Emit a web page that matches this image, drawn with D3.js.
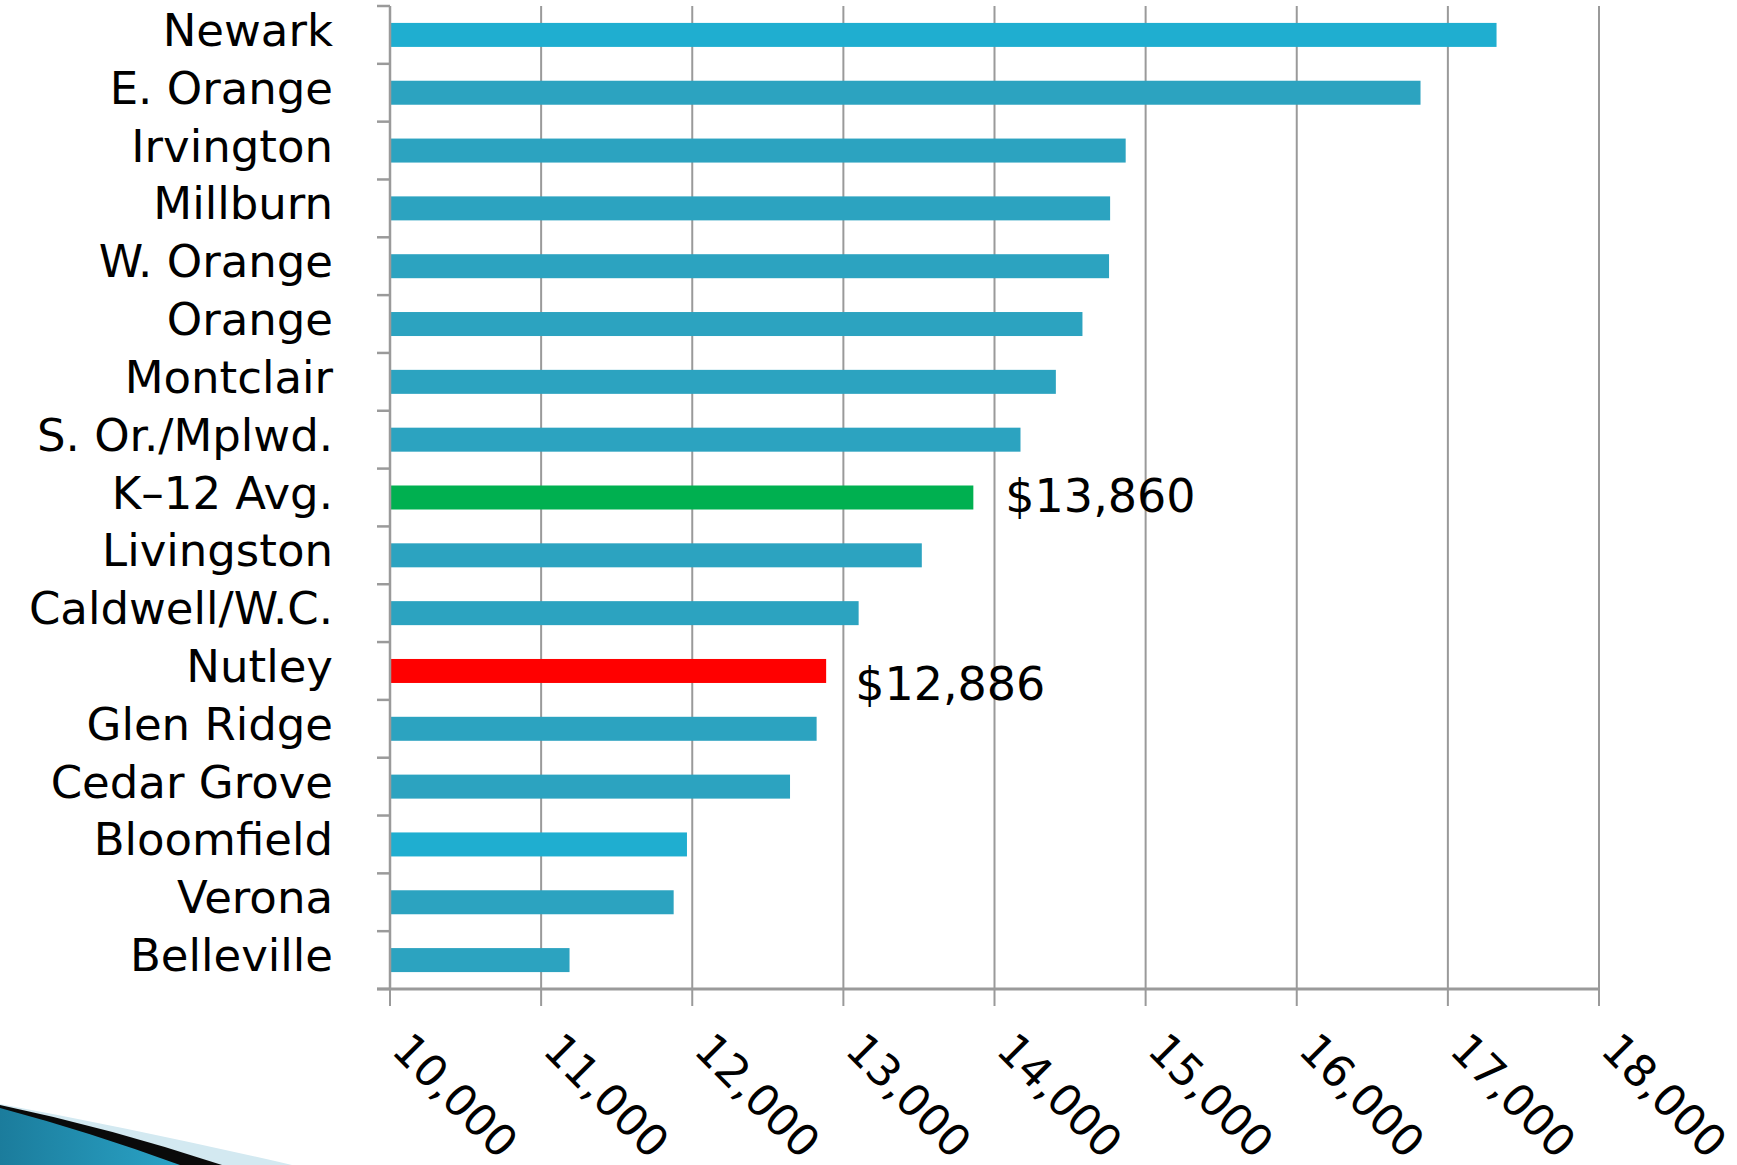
<!DOCTYPE html>
<html>
<head>
<meta charset="utf-8">
<script src="https://cdn.jsdelivr.net/npm/d3@7"></script>
<style>
  html, body { margin: 0; padding: 0; background: #fff; }
  svg { display: block; font-family: "DejaVu Sans", sans-serif; }
</style>
</head>
<body>
<div id="chart"></div>
<script>
const districts = ["Newark", "E. Orange", "Irvington", "Millburn", "W. Orange", "Orange",
  "Montclair", "S. Or./Mplwd.", "K\u201312 Avg.", "Livingston", "Caldwell/W.C.", "Nutley",
  "Glen Ridge", "Cedar Grove", "Bloomfield", "Verona", "Belleville"];
const costPerPupil = [17322, 16819, 14868, 14765, 14758, 14582, 14406, 14172, 13860,
  13519, 13101, 12886, 12823, 12647, 11965, 11877, 11188];
const xTicks = [10000, 11000, 12000, 13000, 14000, 15000, 16000, 17000, 18000];
const callouts = ["K\u201312 Avg.", "Nutley"];

const width = 1737, height = 1165;
const plotLeft = 390, plotRight = 1599, plotTop = 6, plotBottom = 989;

// colours by district, everything else gets the default teal
const barColor = {
  "Newark": "#1faed0",
  "Bloomfield": "#1faed0",
  "K\u201312 Avg.": "#00b050",
  "Nutley": "#ff0000"
};
const defaultColor = "#2ca3c0";
const gridColor = "#9a9a9a";

const data = districts.map((d, i) => ({ name: d, value: costPerPupil[i] }));

const svg = d3.select("#chart")
  .append("svg")
    .attr("width", width)
    .attr("height", height);

const x = d3.scaleLinear()
  .domain([xTicks[0], xTicks[xTicks.length - 1]])
  .range([plotLeft, plotRight]);

const y = d3.scaleBand()
  .domain(districts)
  .range([plotTop, plotBottom])
  .paddingInner(0.585)
  .paddingOuter(0.2925);

// vertical gridlines (they run through the axis and stick out below as ticks)
svg.append("g")
  .selectAll("line")
  .data(xTicks)
  .enter()
  .append("line")
    .attr("x1", d => x(d))
    .attr("x2", d => x(d))
    .attr("y1", plotTop)
    .attr("y2", plotBottom + 17)
    .attr("stroke", gridColor)
    .attr("stroke-width", 2);

// bars
svg.append("g")
  .selectAll("rect")
  .data(data)
  .enter()
  .append("rect")
    .attr("x", x(xTicks[0]) + 1)
    .attr("y", d => y(d.name))
    .attr("width", d => x(d.value) - x(xTicks[0]) - 1)
    .attr("height", y.bandwidth())
    .attr("fill", d => barColor[d.name] || defaultColor);

// category axis: line plus tick marks between bands
const step = y.step();
const bandEdges = d3.range(districts.length + 1).map(i => plotTop + i * step);
const yAxis = svg.append("g");
yAxis.append("line")
  .attr("x1", plotLeft).attr("x2", plotLeft)
  .attr("y1", plotTop).attr("y2", plotBottom)
  .attr("stroke", gridColor).attr("stroke-width", 2.5);
yAxis.selectAll(".tick")
  .data(bandEdges)
  .enter()
  .append("line")
    .attr("class", "tick")
    .attr("x1", plotLeft - 13).attr("x2", plotLeft)
    .attr("y1", d => d).attr("y2", d => d)
    .attr("stroke", gridColor).attr("stroke-width", 2.5);

yAxis.selectAll("text")
  .data(districts)
  .enter()
  .append("text")
    .attr("x", 333)
    .attr("y", d => y(d) + y.bandwidth() / 2)
    .attr("dy", 11)
    .attr("text-anchor", "end")
    .attr("font-size", 45)
    .attr("fill", "#000")
    .text(d => d);

// value axis line
svg.append("line")
  .attr("x1", plotLeft - 13).attr("x2", plotRight)
  .attr("y1", plotBottom).attr("y2", plotBottom)
  .attr("stroke", gridColor).attr("stroke-width", 3);

// rotated tick labels
const fmt = d3.format(",");
svg.append("g")
  .selectAll("text")
  .data(xTicks)
  .enter()
  .append("text")
    .attr("transform", d => `translate(${x(d)}, ${1052}) rotate(45)`)
    .attr("font-size", 44)
    .attr("fill", "#000")
    .text(d => fmt(d));

// value callouts
const calloutDy = { "K\u201312 Avg.": 14, "Nutley": 29 };
const calloutDx = { "K\u201312 Avg.": 32, "Nutley": 29 };
svg.append("g")
  .selectAll("text")
  .data(data.filter(d => callouts.includes(d.name)))
  .enter()
  .append("text")
    .attr("x", d => x(d.value) + calloutDx[d.name])
    .attr("y", d => y(d.name) + y.bandwidth() / 2 + calloutDy[d.name])
    .attr("font-size", 46)
    .attr("fill", "#000")
    .text(d => "$" + fmt(d.value));

// slide theme swoosh, bottom-left corner
const defs = svg.append("defs");
const grad = defs.append("linearGradient")
  .attr("id", "swoosh")
  .attr("x1", "0").attr("y1", "0").attr("x2", "1").attr("y2", "0");
grad.append("stop").attr("offset", "0").attr("stop-color", "#1b7c9c");
grad.append("stop").attr("offset", "1").attr("stop-color", "#2aa3c6");

const deco = svg.append("g");
deco.append("path")
  .attr("d", "M0,1104 Q140,1130 292,1165 L0,1165 Z")
  .attr("fill", "#d3e9f1");
deco.append("path")
  .attr("d", "M0,1105 Q110,1128 222,1165 L0,1165 Z")
  .attr("fill", "#0a0a0a");
deco.append("path")
  .attr("d", "M0,1108 Q90,1132 180,1165 L0,1165 Z")
  .attr("fill", "url(#swoosh)");
</script>
</body>
</html>
